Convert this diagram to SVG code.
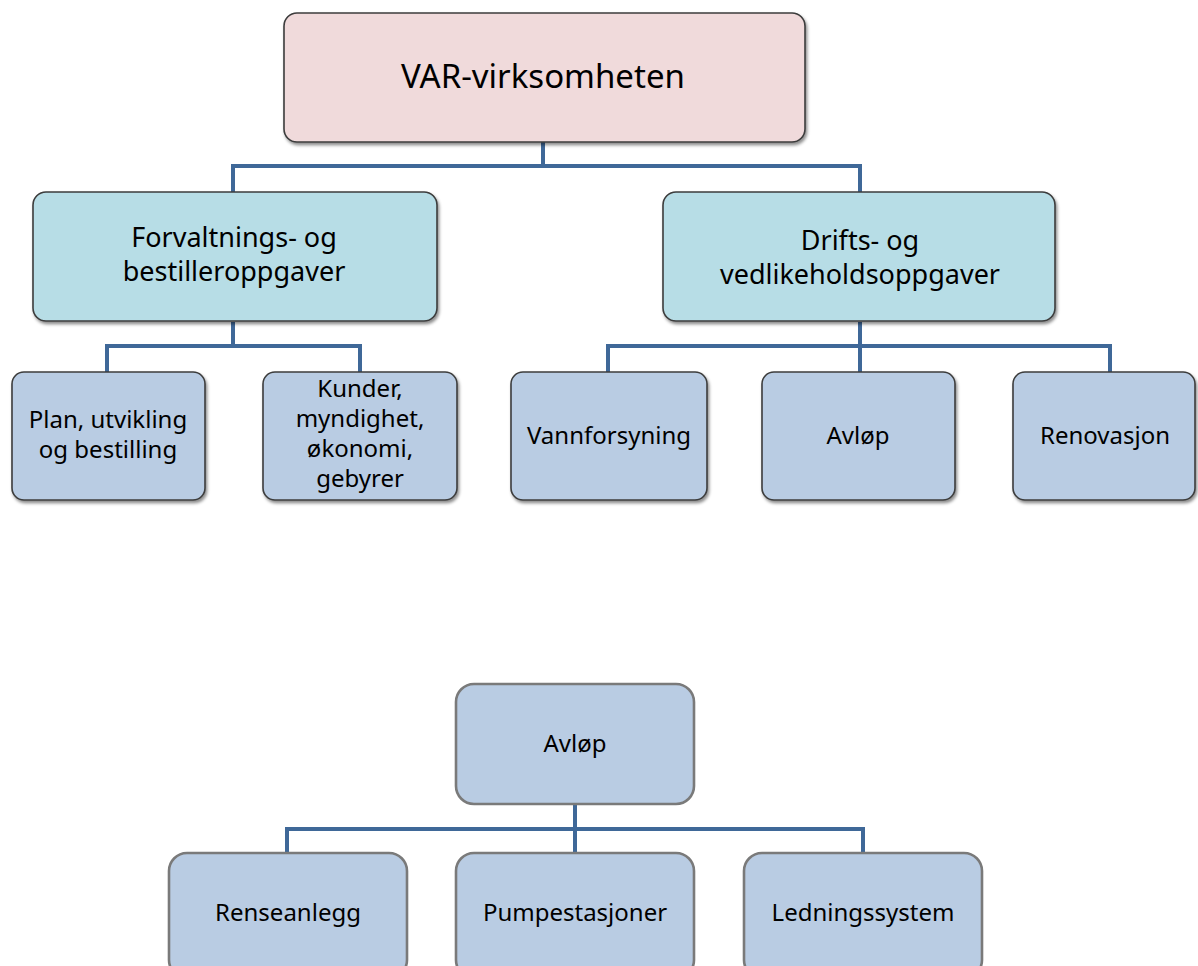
<svg xmlns="http://www.w3.org/2000/svg" width="1198" height="966" viewBox="0 0 1198 966">
<style>
.t{font-family:"Noto Sans","Open Sans",sans-serif;fill:#000;text-anchor:middle}
.b1{fill:#F0DADB;stroke:#3c3c3c;stroke-width:1.6}
.b2{fill:#B7DDE6;stroke:#3c3c3c;stroke-width:1.6}
.b3{fill:#B9CCE3;stroke:#3c3c3c;stroke-width:1.6}
.b4{fill:#B9CCE3;stroke:#7a7a7a;stroke-width:2.6}
.c{fill:none;stroke:#3F6898;stroke-width:4}
</style>
<defs>
<filter id="sh" x="-10%" y="-10%" width="120%" height="125%">
<feDropShadow dx="1.5" dy="2.5" stdDeviation="1.5" flood-color="#000" flood-opacity="0.45"/>
</filter>
</defs>
<rect width="1198" height="966" fill="#fff"/>
<g id="connectors">
<path class="c" d="M543 142 V166 M233 166 H860 M233 164 V192 M860 164 V192"/>
<path class="c" d="M233 322 V346 M107 346 H360 M107 344 V372 M360 344 V372"/>
<path class="c" d="M860 322 V346 M608 346 H1110 M608 344 V372 M860 344 V372 M1110 344 V372"/>
<path class="c" d="M575 804 V829 M287 829 H863 M287 827 V853 M575 827 V853 M863 827 V853"/>
</g>
<g id="n-var"><rect class="b1" filter="url(#sh)" x="284" y="13" width="521" height="129" rx="13"/><text class="t" x="543" y="88" font-size="33">VAR-virksomheten</text></g>
<g id="n-forv"><rect class="b2" filter="url(#sh)" x="33" y="192" width="404" height="129" rx="13"/><text class="t" x="234" y="247" font-size="27">Forvaltnings- og</text><text class="t" x="234" y="281" font-size="27">bestilleroppgaver</text></g>
<g id="n-drift"><rect class="b2" filter="url(#sh)" x="663" y="192" width="392" height="129" rx="13"/><text class="t" x="860" y="250" font-size="27">Drifts- og</text><text class="t" x="860" y="284" font-size="27">vedlikeholdsoppgaver</text></g>
<g id="n-plan"><rect class="b3" filter="url(#sh)" x="12" y="372" width="193" height="128" rx="12"/><text class="t" x="108" y="428" font-size="24">Plan, utvikling</text><text class="t" x="108" y="458" font-size="24">og bestilling</text></g>
<g id="n-kunder"><rect class="b3" filter="url(#sh)" x="263" y="372" width="194" height="128" rx="12"/><text class="t" x="360" y="397" font-size="24">Kunder,</text><text class="t" x="360" y="427" font-size="24">myndighet,</text><text class="t" x="360" y="457" font-size="24">økonomi,</text><text class="t" x="360" y="487" font-size="24">gebyrer</text></g>
<g id="n-vann"><rect class="b3" filter="url(#sh)" x="511" y="372" width="196" height="128" rx="12"/><text class="t" x="609" y="444" font-size="24">Vannforsyning</text></g>
<g id="n-avlop1"><rect class="b3" filter="url(#sh)" x="762" y="372" width="193" height="128" rx="12"/><text class="t" x="858" y="444" font-size="24">Avløp</text></g>
<g id="n-renov"><rect class="b3" filter="url(#sh)" x="1013" y="372" width="182" height="128" rx="12"/><text class="t" x="1105" y="444" font-size="24">Renovasjon</text></g>
<g id="n-avlop2"><rect class="b4" x="456" y="684" width="238" height="120" rx="18"/><text class="t" x="575" y="752" font-size="24">Avløp</text></g>
<g id="n-rense"><rect class="b4" x="169" y="853" width="238" height="125" rx="18"/><text class="t" x="288" y="921" font-size="24">Renseanlegg</text></g>
<g id="n-pumpe"><rect class="b4" x="456" y="853" width="238" height="125" rx="18"/><text class="t" x="575" y="921" font-size="24">Pumpestasjoner</text></g>
<g id="n-ledning"><rect class="b4" x="744" y="853" width="238" height="125" rx="18"/><text class="t" x="863" y="921" font-size="24">Ledningssystem</text></g>
</svg>
